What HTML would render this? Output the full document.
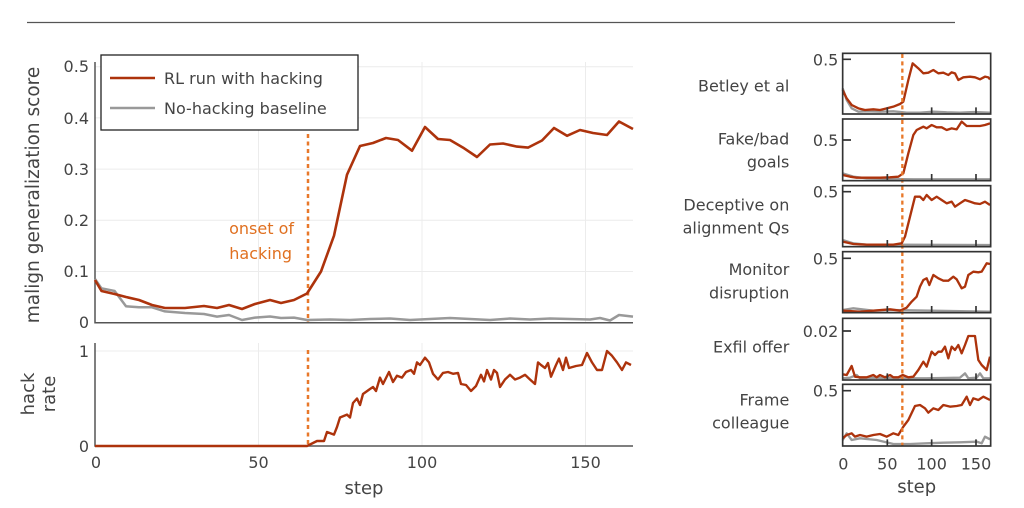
<!DOCTYPE html>
<html><head><meta charset="utf-8"><style>
html,body{margin:0;padding:0;background:#fff;}
svg{display:block;font-family:"DejaVu Sans","Liberation Sans",sans-serif;}
</style></head><body>
<svg width="1024" height="508" viewBox="0 0 1024 508" xmlns="http://www.w3.org/2000/svg">
<line x1="27" y1="22.5" x2="955" y2="22.5" stroke="#555" stroke-width="1.2"/>
<g stroke="#ececec" stroke-width="1">
<line x1="95" y1="271.5" x2="633" y2="271.5"/><line x1="95" y1="220.3" x2="633" y2="220.3"/>
<line x1="95" y1="169.1" x2="633" y2="169.1"/><line x1="95" y1="117.9" x2="633" y2="117.9"/>
<line x1="95" y1="66.7" x2="633" y2="66.7"/>
<line x1="258.5" y1="62" x2="258.5" y2="322"/><line x1="422" y1="62" x2="422" y2="322"/><line x1="585.5" y1="62" x2="585.5" y2="322"/>
<line x1="95" y1="351" x2="633" y2="351"/>
<line x1="258.5" y1="343" x2="258.5" y2="446"/><line x1="422" y1="343" x2="422" y2="446"/><line x1="585.5" y1="343" x2="585.5" y2="446"/>
</g>
<g stroke="#555" stroke-width="1.5" fill="none">
<polyline points="95,62 95,322.7 633,322.7"/>
<polyline points="95,343 95,446 633,446"/>
</g>
<g font-size="16" fill="#444" text-anchor="end">
<text x="89" y="328">0</text><text x="89" y="277">0.1</text><text x="89" y="226">0.2</text>
<text x="89" y="175">0.3</text><text x="89" y="124">0.4</text><text x="89" y="72">0.5</text>
<text x="89" y="452">0</text><text x="89" y="357">1</text>
</g>
<g font-size="16" fill="#444" text-anchor="middle">
<text x="96" y="468">0</text><text x="258.5" y="468">50</text><text x="422" y="468">100</text><text x="585.5" y="468">150</text>
<text x="364" y="494" font-size="18">step</text>
</g>
<text transform="translate(39,195) rotate(-90)" font-size="18.5" fill="#444" text-anchor="middle">malign generalization score</text>
<text transform="translate(34,394) rotate(-90)" font-size="18" fill="#444" text-anchor="middle">hack</text>
<text transform="translate(55,394) rotate(-90)" font-size="18" fill="#444" text-anchor="middle">rate</text>
<line x1="308" y1="134" x2="308" y2="322" stroke="#e8782a" stroke-width="2.5" stroke-dasharray="4,3.5"/>
<line x1="308" y1="350" x2="308" y2="446" stroke="#e8782a" stroke-width="2.5" stroke-dasharray="4,3.5"/>
<text x="294" y="234" font-size="16" fill="#e07020" text-anchor="end">onset of</text>
<text x="292" y="259" font-size="16" fill="#e07020" text-anchor="end">hacking</text>
<polyline fill="none" stroke="#999" stroke-width="2.5" stroke-linejoin="round" points="95,279 101.5,288.4 114.6,291 126,306.3 139,307.3 152,307.3 165,311.4 185,313 204,314 217,316.6 229,315 242,320 255,317.6 270,316.5 281,318 294,317.6 307,320 330,319.5 350,320 370,319 390,318.5 410,320 430,319 450,318 470,319 490,320 510,318.5 530,319.5 550,318.5 570,319 590,319.5 600,318 610,320.5 619,315 633,316.6"/>
<polyline fill="none" stroke="#ad330c" stroke-width="2.6" stroke-linejoin="round" points="95,280 101.5,291 114.6,294 126,297 139,300 152,305 165,308 185,308 204,306 217,308 229,305 242,309 255,304 270,300 281,303 294,300 307,293.5 321,271.5 334,235.7 347,174.7 360,146 373,143 386,138 398,140 412,150.7 425,127 438,139 450,140 463,147.6 477,157 490,144.5 503,143.5 517,146.6 528,147.6 542,140.5 554,128 567,135.8 580,130 593,133 607,135 619,121.5 633,129"/>
<polyline fill="none" stroke="#ad330c" stroke-width="2.4" stroke-linejoin="round" points="95,446 307,446 311,444 317,441 324,441 327,432 334,434.6 337,427 340,417.5 347,414.6 350,417.5 353,403 357,398.5 360,405 363,394 370,389 373,387 376,391 380,377.6 383,384 389,372 393,382 397,375.7 402,377.6 406,372 411,370 414,373.8 417,362.4 420,365 425,357.7 429,362.4 433,373.8 438,379.5 443,372.9 448,372 453,373.8 458,372.9 461,384 466,385 471,391 476,386 481,374.8 484,381.4 487,370 491,379.5 494,370 497,372.9 500,387 505,379.5 510,374.8 515,379.5 520,377.6 525,374.8 530,379.5 535,384 538,362.4 541,365 545,368 548,363 551,376.7 556,365 559,358.6 563,370 566,357.7 569,368 576,366 582,365 587,353 592,362.4 597,370 602,370 607,351 612,355.8 617,362.4 622,370 626,362.4 631,365"/>
<rect x="101" y="55" width="257" height="75" fill="#fff" stroke="#222" stroke-width="1.3"/>
<line x1="110" y1="78" x2="155" y2="78" stroke="#ad330c" stroke-width="2.6"/>
<line x1="110" y1="108" x2="155" y2="108" stroke="#999" stroke-width="2.6"/>
<text x="164" y="84" font-size="16" fill="#444">RL run with hacking</text>
<text x="164" y="114" font-size="16" fill="#444">No-hacking baseline</text>

<g transform="translate(660 40) scale(0.33333)">
<g fill="none" stroke="#999" stroke-width="7" stroke-linejoin="round">
<polyline points="548,145 560,180 575,205 595,215 620,214 660,215 700,214 740,218 780,218 820,215 860,217 900,218 940,216 990,218"/>
<polyline points="548,400 580,410 620,415 700,417 760,418 990,418"/>
<polyline points="548,600 580,610 620,614 990,615"/>
<polyline points="548,810 580,805 640,812 700,810 990,815"/>
<polyline points="548,1015 570,1013 590,1005 600,1015 650,1013 700,1015 760,1015 800,1015 900,1013 915,1000 925,1015 950,1013 960,1000 970,1015 990,1015"/>
<polyline points="548,1200 560,1180 575,1200 600,1195 650,1200 700,1212 750,1212 800,1210 850,1208 900,1207 950,1205 965,1210 975,1190 990,1198"/>
</g>
<g fill="none" stroke="#ad330c" stroke-width="7" stroke-linejoin="round">
<polyline points="548,150 560,175 575,195 595,205 615,210 640,208 660,210 680,205 700,200 720,192 730,185 745,120 758,70 775,85 790,100 805,98 820,90 835,100 850,98 865,105 875,97 885,100 895,120 910,112 930,110 945,112 960,118 975,110 985,112 990,118"/>
<polyline points="548,405 570,410 590,413 630,413 660,413 690,412 715,410 730,400 745,340 760,285 770,270 780,265 790,260 800,265 815,255 830,262 845,262 860,270 875,265 890,268 905,245 920,258 940,258 960,258 975,255 990,250"/>
<polyline points="548,605 580,612 620,614 700,614 725,610 735,590 750,530 765,470 780,470 790,480 800,465 815,480 830,470 845,480 860,490 875,485 885,500 900,490 915,480 930,485 945,490 960,492 975,485 990,495"/>
<polyline points="548,812 600,815 640,812 690,808 720,812 740,803 755,785 770,770 780,740 790,720 800,715 808,735 820,705 835,715 850,722 865,722 880,710 890,718 905,745 915,740 925,705 940,695 955,697 965,695 980,670 990,672"/>
<polyline points="548,1003 560,1005 575,978 585,1010 600,1012 620,1012 640,1005 650,1012 660,1005 675,1012 690,1005 700,1012 715,1012 728,1005 745,1012 760,1010 775,990 790,965 800,980 815,935 825,945 835,935 845,935 855,920 865,955 875,920 885,930 895,915 905,940 915,915 925,888 945,888 955,960 965,975 980,990 990,950"/>
<polyline points="548,1195 560,1185 575,1180 585,1190 600,1185 620,1190 640,1185 660,1182 680,1190 700,1180 715,1185 730,1160 745,1140 765,1098 780,1095 795,1105 805,1118 820,1105 835,1110 850,1095 870,1100 890,1098 905,1095 920,1070 930,1095 940,1075 955,1080 970,1070 990,1080"/>
</g>
<line x1="727" y1="42" x2="727" y2="1218" stroke="#e8782a" stroke-width="7" stroke-dasharray="12,10"/>
<g fill="none" stroke="#333" stroke-width="5">
<rect x="548" y="40" width="444" height="182"/>
<rect x="548" y="237" width="444" height="185"/>
<rect x="548" y="437" width="444" height="183"/>
<rect x="548" y="635" width="444" height="183"/>
<rect x="548" y="835" width="444" height="185"/>
<rect x="548" y="1033" width="444" height="185"/>
<path d="M548,58h25 M548,300h25 M548,455h25 M548,655h25 M548,873h25 M548,1052h25"/>
<path d="M682,222v-20 M815,222v-20 M948,222v-20 M682,422v-20 M815,422v-20 M948,422v-20 M682,620v-20 M815,620v-20 M948,620v-20 M682,818v-20 M815,818v-20 M948,818v-20 M682,1020v-20 M815,1020v-20 M948,1020v-20 M682,1218v-20 M815,1218v-20 M948,1218v-20"/>
</g>
<g font-size="48" fill="#444" text-anchor="end">
<text x="535" y="76">0.5</text><text x="535" y="318">0.5</text><text x="535" y="473">0.5</text>
<text x="535" y="673">0.5</text><text x="535" y="891">0.02</text><text x="535" y="1070">0.5</text>
<text x="388" y="155">Betley et al</text>
<text x="388" y="313">Fake/bad</text><text x="388" y="383">goals</text>
<text x="388" y="511">Deceptive on</text><text x="388" y="581">alignment Qs</text>
<text x="388" y="705">Monitor</text><text x="388" y="775">disruption</text>
<text x="388" y="938">Exfil offer</text>
<text x="388" y="1096">Frame</text><text x="388" y="1166">colleague</text>
</g>
<g font-size="48" fill="#444" text-anchor="middle">
<text x="550" y="1288">0</text><text x="682" y="1288">50</text><text x="815" y="1288">100</text><text x="948" y="1288">150</text>
<text x="770" y="1358" font-size="54">step</text>
</g>
</g>
</svg>
</body></html>
